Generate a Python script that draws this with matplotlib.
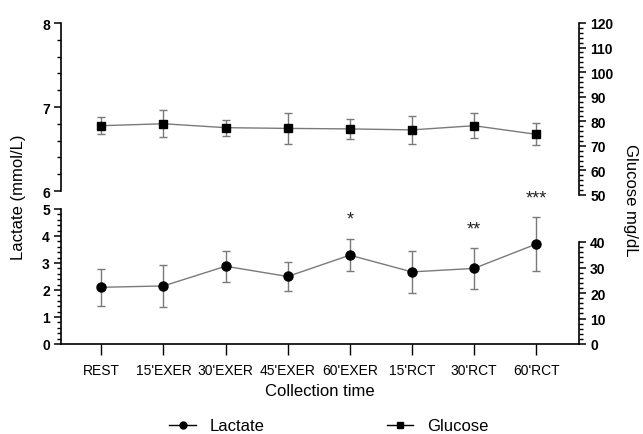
import matplotlib
matplotlib.use("Agg")
import matplotlib.pyplot as plt
from matplotlib.ticker import FixedLocator
from matplotlib.lines import Line2D
import numpy as np

plt.rcParams['font.family'] = ['Liberation Sans', 'DejaVu Sans']

categories = ["REST", "15'EXER", "30'EXER", "45'EXER", "60'EXER", "15'RCT", "30'RCT", "60'RCT"]
lactate = [2.10, 2.15, 2.88, 2.50, 3.29, 2.67, 2.80, 3.70]
lactate_err = [0.68, 0.78, 0.58, 0.53, 0.60, 0.79, 0.75, 1.00]
glucose = [78.2, 79.0, 77.4, 77.1, 76.9, 76.5, 78.2, 74.7]
glucose_err = [3.4, 5.5, 3.3, 6.4, 4.0, 5.8, 5.0, 4.4]
stars = {4: "*", 6: "**", 7: "***"}
star_y = [4.62, 4.27, 5.40]

W, H = 643, 435
fig = plt.figure(figsize=(W / 100, H / 100), dpi=100)

def fx(px):
    return px / W

def fy(py):
    return 1 - py / H

left_px, right_px = 61, 579
ax_top = fig.add_axes([fx(left_px), fy(196), fx(right_px - left_px), (196 - 24) / H])
ax_bot = fig.add_axes([fx(left_px), fy(345), fx(right_px - left_px), (345 - 209) / H])
ax_top_r = ax_top.twinx()
ax_bot_r = ax_bot.twinx()

x = list(range(len(categories)))
xlim = (-0.65, 7.69)
for a in (ax_top, ax_bot, ax_top_r, ax_bot_r):
    a.set_xlim(*xlim)
    a.patch.set_visible(False)
    a.spines['top'].set_visible(False)

gray = '#7a7a7a'

# Lactate on bottom axes
ax_bot.errorbar(x, lactate, yerr=lactate_err, fmt='none', ecolor=gray, elinewidth=1,
                capsize=3, capthick=1, zorder=2)
ax_bot.plot(x, lactate, color=gray, lw=1, zorder=2)
ax_bot.plot(x, lactate, 'o', color='black', markersize=6.5, zorder=3)
ax_bot.set_ylim(0, 5.0 + 1 / 27.3)
ax_bot.spines['left'].set_bounds(0, 5)
ax_bot.spines['right'].set_visible(False)
ax_bot.yaxis.set_major_locator(FixedLocator([0, 1, 2, 3, 4, 5]))
ax_bot.yaxis.set_minor_locator(FixedLocator(np.arange(0, 5.01, 0.2)))
ax_bot.set_xticks(x)
ax_bot.set_xticklabels(categories, fontsize=10)
ax_bot.tick_params(axis='x', length=8, width=1, pad=6)
for i, (k, s) in enumerate(stars.items()):
    ax_bot.text(k, star_y[i], s, ha='center', va='center', fontsize=13, color='#222222', clip_on=False)

# right bottom glucose axis
ax_bot_r.set_ylim(0, 136 / 2.55)
ax_bot_r.spines['right'].set_bounds(0, 40)
ax_bot_r.spines['left'].set_visible(False)
ax_bot_r.spines['bottom'].set_visible(False)
ax_bot_r.yaxis.set_major_locator(FixedLocator([0, 10, 20, 30, 40]))
ax_bot_r.yaxis.set_minor_locator(FixedLocator(np.arange(0, 40.1, 2)))

# Top axes
ax_top.set_ylim(6 - 4 / 84, 8.0)
ax_top.spines['left'].set_bounds(6, 8)
ax_top.spines['bottom'].set_visible(False)
ax_top.spines['right'].set_visible(False)
ax_top.yaxis.set_major_locator(FixedLocator([6, 7, 8]))
ax_top.yaxis.set_minor_locator(FixedLocator(np.arange(6, 8.01, 0.2)))
ax_top.set_xticks([])

ax_top_r.errorbar(x, glucose, yerr=glucose_err, fmt='none', ecolor=gray, elinewidth=1,
                  capsize=3, capthick=1, zorder=2)
ax_top_r.plot(x, glucose, color=gray, lw=1, zorder=2)
ax_top_r.plot(x, glucose, 's', color='black', markersize=6, zorder=3)
ax_top_r.set_ylim(50, 120)
ax_top_r.spines['right'].set_bounds(50, 120)
ax_top_r.spines['left'].set_visible(False)
ax_top_r.spines['bottom'].set_visible(False)
ax_top_r.yaxis.set_major_locator(FixedLocator(np.arange(50, 121, 10)))
ax_top_r.yaxis.set_minor_locator(FixedLocator(np.arange(50, 120.1, 2)))
ax_top_r.set_xticks([])

for a in (ax_top, ax_bot, ax_top_r, ax_bot_r):
    for s in a.spines.values():
        s.set_linewidth(1.2)
    a.tick_params(axis='y', which='major', length=5, width=1.1, pad=3, labelsize=10)
    a.tick_params(axis='y', which='minor', length=3, width=1)
    for lab in a.get_yticklabels():
        lab.set_fontweight('bold')

fig.text(0.028, fy(197), 'Lactate (mmol/L)', rotation=90, ha='center', va='center', fontsize=12)
fig.text(0.981, fy(200), 'Glucose mg/dL', rotation=270, ha='center', va='center', fontsize=12)
fig.text(fx((left_px + right_px) / 2), fy(392), 'Collection time', ha='center', va='center', fontsize=12)

handles = [Line2D([0], [0], color='black', lw=1, marker='o', markersize=5),
           Line2D([0], [0], color='black', lw=1, marker='s', markersize=5)]
fig.legend(handles, ['Lactate', 'Glucose'], loc='center', bbox_to_anchor=(fx(329), fy(427)),
           ncol=2, frameon=False, fontsize=12, columnspacing=7.3, handlelength=1.6, handletextpad=0.85)

fig.savefig('out.png', dpi=100)
